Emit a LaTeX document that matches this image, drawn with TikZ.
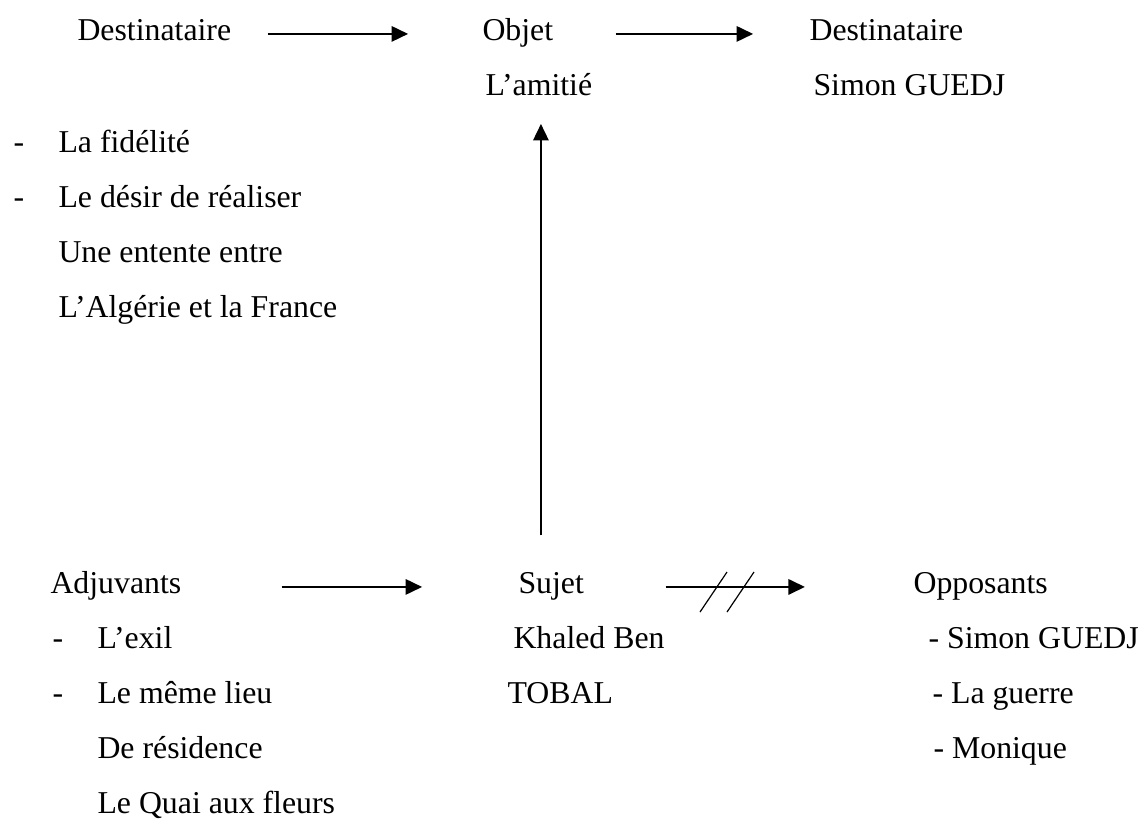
\documentclass[tikz,border=0pt]{standalone}
\usepackage{fontspec}
\setmainfont{Liberation Serif}
\usepackage{tikz}
\usetikzlibrary{arrows.meta}
\tikzstyle{texte} = [anchor=base west, inner sep=0pt, font=\fontsize{12pt}{14pt}\selectfont]
\tikzstyle{fleche} = [-{Triangle[length=6.2pt,width=5.8pt]}, line width=0.7pt]

\begin{document}
\begin{tikzpicture}[x=0.3774pt, y=-0.3774pt]
	\useasboundingbox (0,0) rectangle (1140,818);
	% ligne du haut
	\node[texte] (dest1) at (77,40) {Destinataire};
	\node[texte] (objet) at (482,40) {Objet};
	\node[texte] (amitie) at (485,95) {L’amitié};
	\node[texte] (dest2) at (809,40) {Destinataire};
	\node[texte] (simon) at (813,95) {Simon GUEDJ};
	\node[texte] (tiret1) at (13,152) {-};
	\node[texte] (fidel) at (58,152) {La fidélité};
	\node[texte] (tiret2) at (13,207) {-};
	\node[texte] (desir) at (58,207) {Le désir de réaliser};
	\node[texte] (entente) at (58,262) {Une entente entre};
	\node[texte] (algerie) at (58,317) {L’Algérie et la France};
	% ligne du bas
	\node[texte] (adjuv) at (50,593) {Adjuvants};
	\node[texte] (tiret3) at (52,648) {-};
	\node[texte] (exil) at (97,648) {L’exil};
	\node[texte] (tiret4) at (52,703) {-};
	\node[texte] (lieu) at (97,703) {Le même lieu};
	\node[texte] (resid) at (97,758) {De résidence};
	\node[texte] (quai) at (97,813) {Le Quai aux fleurs};
	\node[texte] (sujet) at (518,593) {Sujet};
	\node[texte] (khaled) at (513,648) {Khaled Ben};
	\node[texte] (tobal) at (507,703) {TOBAL};
	\node[texte] (oppos) at (913,593) {Opposants};
	\node[texte] (opp1) at (928,648) {- Simon GUEDJ};
	\node[texte] (opp2) at (932,703) {- La guerre};
	\node[texte] (opp3) at (933,758) {- Monique};
	% fleches
	\draw[fleche, shorten <=13.6pt, shorten >=27.9pt] (dest1.mid east) -- (objet.mid west);
	\draw[fleche, shorten <=23.4pt, shorten >=21.1pt] (objet.mid east) -- (dest2.mid west);
	\draw[fleche, shorten <=13.6pt, shorten >=10.6pt] ([xshift=0.8pt]amitie.south |- sujet.north) -- ([xshift=0.8pt]amitie.south);
	\draw[fleche, shorten <=37.7pt, shorten >=36.2pt] (adjuv.mid east) -- (sujet.mid west);
	\draw[fleche, shorten <=30.6pt, shorten >=40.8pt] (sujet.mid east) -- (oppos.mid west);
	\coordinate (barre) at (740,592);
	\draw[line width=0.45pt] (barre) ++(-40,20) -- ++(27,-40);
	\draw[line width=0.45pt] (barre) ++(-13,20) -- ++(27,-40);
\end{tikzpicture}
\end{document}
